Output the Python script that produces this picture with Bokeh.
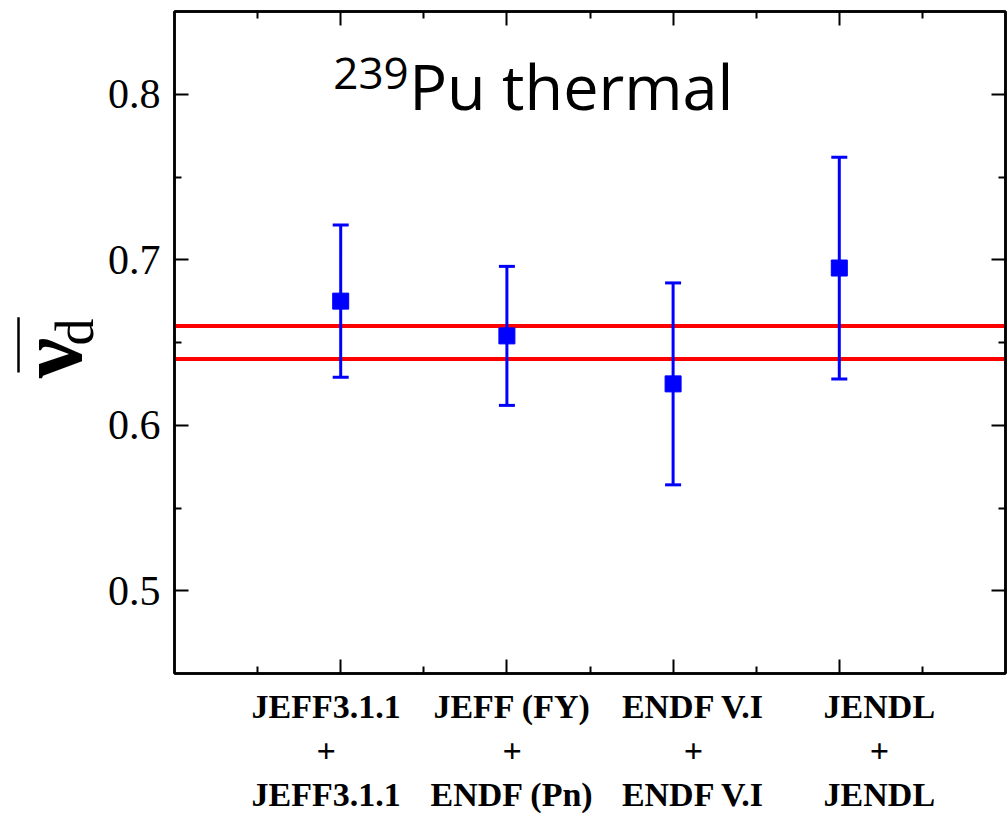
import math
from bokeh.plotting import figure
from bokeh.layouts import row
from bokeh.models import (Range1d, FixedTicker, LinearAxis, Whisker, ColumnDataSource,
                          Span, Label, TeeHead)
from bokeh.core.properties import value
from bokeh.embed import file_html
from bokeh.resources import INLINE

# ---- data ----
libraries = ["JEFF3.1.1\n+\nJEFF3.1.1", "JEFF (FY)\n+\nENDF (Pn)",
             "ENDF V.I\n+\nENDF V.I", "JENDL\n+\nJENDL"]
positions = [1, 2, 3, 4]
nu_d = [0.675, 0.654, 0.625, 0.695]
upper = [0.721, 0.696, 0.686, 0.762]
lower = [0.629, 0.612, 0.564, 0.628]
band = [0.64, 0.66]
y_major = [0.5, 0.6, 0.7, 0.8]
y_minor = [0.55, 0.65, 0.75]
x_minor = [0.5, 1.5, 2.5, 3.5, 4.5]

# ---- left strip holding the y-axis title (nu-bar sub d) ----
LW = 104
lab = figure(width=LW, height=816, x_range=Range1d(0, LW), y_range=Range1d(0, 816),
             output_backend="svg", toolbar_location=None, x_axis_type=None,
             y_axis_type=None, min_border=0)
lab.grid.visible = False
lab.outline_line_color = None
common = dict(angle=math.pi / 2, text_baseline="middle", text_align="center",
              text_color="black", text_font=value("Liberation Serif"))
lab.text(x=[50], y=[389], text=["ν"], text_font_style="bold", text_font_size="90px",
         **common)
lab.text(x=[74], y=[421], text=["d"], text_font_size="54px", **common)
# the bar over nu
lab.segment(x0=[18], y0=[371], x1=[18], y1=[439], line_color="black", line_width=2.5)

# ---- main plot ----
p = figure(width=1007 - LW, height=816, x_range=Range1d(0, 5), y_range=Range1d(0.45, 0.85),
           output_backend="svg", toolbar_location=None,
           min_border_left=174 - LW, min_border_right=2, min_border_top=11,
           min_border_bottom=133)
p.grid.visible = False
p.outline_line_color = "black"
p.outline_line_width = 2.5

bottom = p.below[0]
left = p.left[0]
bottom.ticker = FixedTicker(ticks=positions, minor_ticks=x_minor)
left.ticker = FixedTicker(ticks=y_major, minor_ticks=y_minor)

right = LinearAxis(ticker=FixedTicker(ticks=y_major, minor_ticks=y_minor))
top = LinearAxis(ticker=FixedTicker(ticks=positions, minor_ticks=x_minor))
p.add_layout(right, "right")
p.add_layout(top, "above")

for ax in [bottom, right, top]:
    ax.major_label_text_font_size = "0px"
    ax.major_label_text_color = None
    ax.major_label_standoff = 0

for ax in [bottom, left, right, top]:
    ax.axis_line_width = 2.5
    ax.axis_line_color = "black"
    ax.major_tick_line_width = 2
    ax.minor_tick_line_width = 2
    ax.major_tick_in = 14
    ax.major_tick_out = 0
    ax.minor_tick_in = 7
    ax.minor_tick_out = 0

left.major_label_text_font = "Liberation Serif"
left.major_label_text_font_size = "42px"
left.major_label_text_color = "black"
left.major_label_standoff = 14

# category labels (in the reference they sit slightly spread out from the ticks)
label_shift = [-0.088, 0.032, 0.122, 0.241]
label_pos = [c + s for c, s in zip(positions, label_shift)]
lab_axis = LinearAxis(ticker=FixedTicker(ticks=label_pos, minor_ticks=[]),
                      major_label_overrides={k: v for k, v in zip(label_pos, libraries)},
                      axis_line_color=None, major_tick_line_color=None,
                      minor_tick_line_color=None, major_tick_in=0, major_tick_out=0,
                      minor_tick_in=0, minor_tick_out=0)
lab_axis.major_label_text_font = "Liberation Serif"
lab_axis.major_label_text_font_style = "bold"
lab_axis.major_label_text_font_size = "34px"
lab_axis.major_label_text_color = "black"
lab_axis.major_label_text_line_height = 1.2
lab_axis.major_label_standoff = 14
p.add_layout(lab_axis, "below")

for b in band:
    p.add_layout(Span(location=b, dimension="width", line_color="red", line_width=4,
                      level="underlay"))

src = ColumnDataSource(dict(x=positions, y=nu_d, upper=upper, lower=lower))
w = Whisker(base="x", upper="upper", lower="lower", source=src, line_color="blue",
            line_width=3, level="glyph",
            upper_head=TeeHead(size=16, line_color="blue", line_width=3),
            lower_head=TeeHead(size=16, line_color="blue", line_width=3))
p.add_layout(w)
r = p.scatter("x", "y", source=src, marker="square", size=16, color="blue")
r.level = "overlay"

# title inside plot
p.add_layout(Label(x=0.955, y=0.8125, text="239", text_font="Open Sans",
                   text_font_size="44px", text_baseline="alphabetic", text_color="black"))
p.add_layout(Label(x=1.412, y=0.805, text="Pu thermal", text_font="Open Sans",
                   text_font_size="63px", text_baseline="alphabetic", text_color="black"))

layout = row(lab, p, spacing=0)
open("out.html", "w").write(file_html(layout, INLINE))
